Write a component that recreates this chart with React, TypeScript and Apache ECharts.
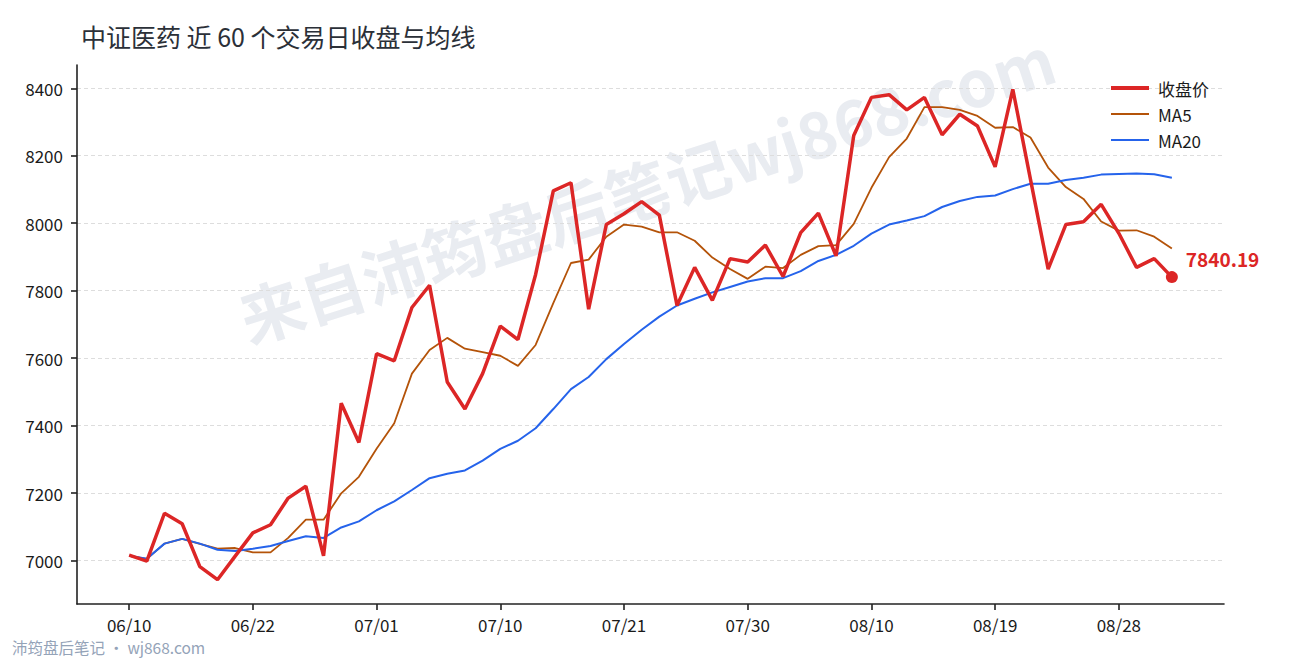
import React, { useEffect, useRef } from 'react';
import * as echarts from 'echarts';

// 60 个交易日（只显示每 7 个一个刻度）
const dates = [
  '06/10', '06/11', '06/13', '06/15', '06/16', '06/18', '06/20', '06/22',
  '06/23', '06/24', '06/25', '06/26', '06/27', '06/29', '07/01',
  '07/02', '07/03', '07/04', '07/06', '07/07', '07/08', '07/10',
  '07/11', '07/13', '07/14', '07/16', '07/17', '07/18', '07/21',
  '07/22', '07/23', '07/24', '07/25', '07/27', '07/28', '07/30',
  '07/31', '08/01', '08/03', '08/04', '08/06', '08/07', '08/10',
  '08/11', '08/12', '08/13', '08/14', '08/15', '08/17', '08/19',
  '08/20', '08/21', '08/22', '08/24', '08/25', '08/26', '08/28',
  '08/29', '08/31', '09/01'
];

const closes = [
  7016, 6998, 7140, 7109, 6982, 6943, 7013, 7082, 7106, 7185,
  7220, 7014, 7466, 7350, 7613, 7592, 7750, 7816, 7529, 7449,
  7554, 7695, 7655, 7848, 8096, 8120, 7745, 7996, 8028, 8064,
  8024, 7756, 7869, 7771, 7895, 7885, 7935, 7842, 7972, 8030,
  7903, 8260, 8373, 8381, 8336, 8373, 8262, 8323, 8288, 8167,
  8397, 8130, 7864, 7996, 8004, 8056, 7970, 7869, 7895, 7840.19
];

const ma5 = [
  7014, 7005, 7050, 7064, 7049, 7035, 7037, 7024, 7024, 7067,
  7121, 7121, 7199, 7248, 7331, 7407, 7554, 7624, 7660, 7628,
  7618, 7607, 7577, 7639, 7763, 7882, 7892, 7960, 7996, 7990,
  7973, 7973, 7948, 7898, 7864, 7835, 7871, 7867, 7906, 7932,
  7935, 7998, 8105, 8196, 8251, 8344, 8344, 8336, 8318, 8283,
  8285, 8254, 8165, 8107, 8072, 8005, 7978, 7979, 7960, 7925
];

const ma20 = [
  7014, 7005, 7050, 7064, 7050, 7032, 7028, 7035, 7043, 7058,
  7072, 7067, 7098, 7116, 7149, 7175, 7209, 7244, 7257, 7267,
  7296, 7331, 7355, 7392, 7449, 7508, 7544, 7597, 7642, 7684,
  7723, 7756, 7776, 7795, 7811, 7827, 7837, 7837, 7858, 7888,
  7906, 7933, 7969, 7996, 8008, 8021, 8048, 8066, 8078, 8082,
  8101, 8117, 8117, 8128, 8135, 8144, 8146, 8147, 8145, 8135
];

const yTicks = [7000, 7200, 7400, 7600, 7800, 8000, 8200, 8400];
const xTicks = [0, 7, 14, 21, 28, 35, 42, 49, 56];

const FONT = '"Noto Sans CJK SC", "Noto Sans", sans-serif';
const RED = '#dc2626';
const ORANGE = '#b45309';
const BLUE = '#2563eb';

const toPairs = (arr: number[]) => arr.map((v, i) => [i, v]);

const App: React.FC = () => {
  const chartRef = useRef<HTMLDivElement>(null);

  useEffect(() => {
    if (!chartRef.current) return;
    const chart = echarts.init(chartRef.current, null, { renderer: 'svg' });
    const last = closes.length - 1;

    const option = {
      animation: false,
      textStyle: { fontFamily: FONT },
      title: {
        text: '中证医药 近 60 个交易日收盘与均线',
        left: 76,
        top: 18,
        textStyle: { fontFamily: FONT, fontSize: 25, fontWeight: 'normal', color: '#2b3038' }
      },
      legend: {
        orient: 'vertical',
        left: 1104,
        top: 73,
        itemWidth: 38,
        itemHeight: 14,
        itemGap: 6,
        itemStyle: { opacity: 0 },
        data: [
          { name: '收盘价', lineStyle: { width: 4 } },
          { name: 'MA5', lineStyle: { width: 2 } },
          { name: 'MA20', lineStyle: { width: 2 } }
        ],
        textStyle: { fontFamily: FONT, fontSize: 17, color: '#1a1a1a', lineHeight: 20, padding: [0, 0, 0, 4] }
      },
      grid: { left: 77, right: 66, top: 65, bottom: 56 },
      xAxis: {
        type: 'value',
        min: -2.95,
        max: 61.95,
        axisLine: { show: true, onZero: false, lineStyle: { color: '#222', width: 1.6 } },
        axisTick: { show: true, length: 6, customValues: xTicks, lineStyle: { color: '#222', width: 1.6 } },
        axisLabel: {
          customValues: xTicks,
          margin: 12,
          fontSize: 17,
          color: '#1a1a1a',
          fontFamily: FONT,
          formatter: (v: number) => dates[Math.round(v)]
        },
        splitLine: { show: false }
      },
      yAxis: {
        type: 'value',
        min: 6871,
        max: 8469,
        axisLine: { show: true, onZero: false, lineStyle: { color: '#222', width: 1.6 } },
        axisTick: { show: true, length: 6, customValues: yTicks, lineStyle: { color: '#222', width: 1.6 } },
        axisLabel: {
          customValues: yTicks,
          margin: 14,
          fontSize: 17,
          color: '#1a1a1a',
          fontFamily: FONT,
          formatter: (v: number) => String(Math.round(v))
        },
        splitLine: { show: true, lineStyle: { color: '#dddddd', type: [4, 3], width: 1 } }
      },
      graphic: [
        {
          type: 'text',
          x: 646,
          y: 186,
          rotation: (18 * Math.PI) / 180,
          z: -10,
          silent: true,
          style: {
            text: '来自沛筠盘后笔记wj868.com',
            fontFamily: FONT,
            fontSize: 64,
            fontWeight: 'bold',
            fill: '#e9ecf1',
            align: 'center',
            verticalAlign: 'middle'
          }
        },
        {
          type: 'text',
          left: 12,
          top: 639,
          style: {
            text: '沛筠盘后笔记 · wj868.com',
            fontFamily: FONT,
            fontSize: 15.5,
            fill: '#94a3b8'
          }
        }
      ],
      series: [
        {
          name: 'MA5',
          type: 'line',
          data: toPairs(ma5),
          symbol: 'none',
          z: 2,
          lineStyle: { color: ORANGE, width: 1.8 },
          itemStyle: { color: ORANGE }
        },
        {
          name: 'MA20',
          type: 'line',
          data: toPairs(ma20),
          symbol: 'none',
          z: 3,
          lineStyle: { color: BLUE, width: 2 },
          itemStyle: { color: BLUE }
        },
        {
          name: '收盘价',
          type: 'line',
          data: toPairs(closes),
          symbol: 'none',
          z: 4,
          lineStyle: { color: RED, width: 3.5 },
          itemStyle: { color: RED }
        },
        {
          name: 'last',
          type: 'scatter',
          data: [[last, closes[last]]],
          symbolSize: 12,
          z: 5,
          itemStyle: { color: RED, opacity: 1 },
          label: {
            show: true,
            position: 'right',
            distance: 8,
            offset: [0, -19],
            formatter: () => closes[last].toFixed(2),
            fontFamily: FONT,
            fontSize: 19,
            fontWeight: 'bold',
            color: RED,
            opacity: 1
          }
        }
      ]
    };

    chart.setOption(option);

    return () => {
      chart.dispose();
    };
  }, []);

  return (
    <div
      ref={chartRef}
      style={{ position: 'fixed', left: 0, top: 0, width: '1290px', height: '660px', background: '#fff' }}
    ></div>
  );
};

export default App;
